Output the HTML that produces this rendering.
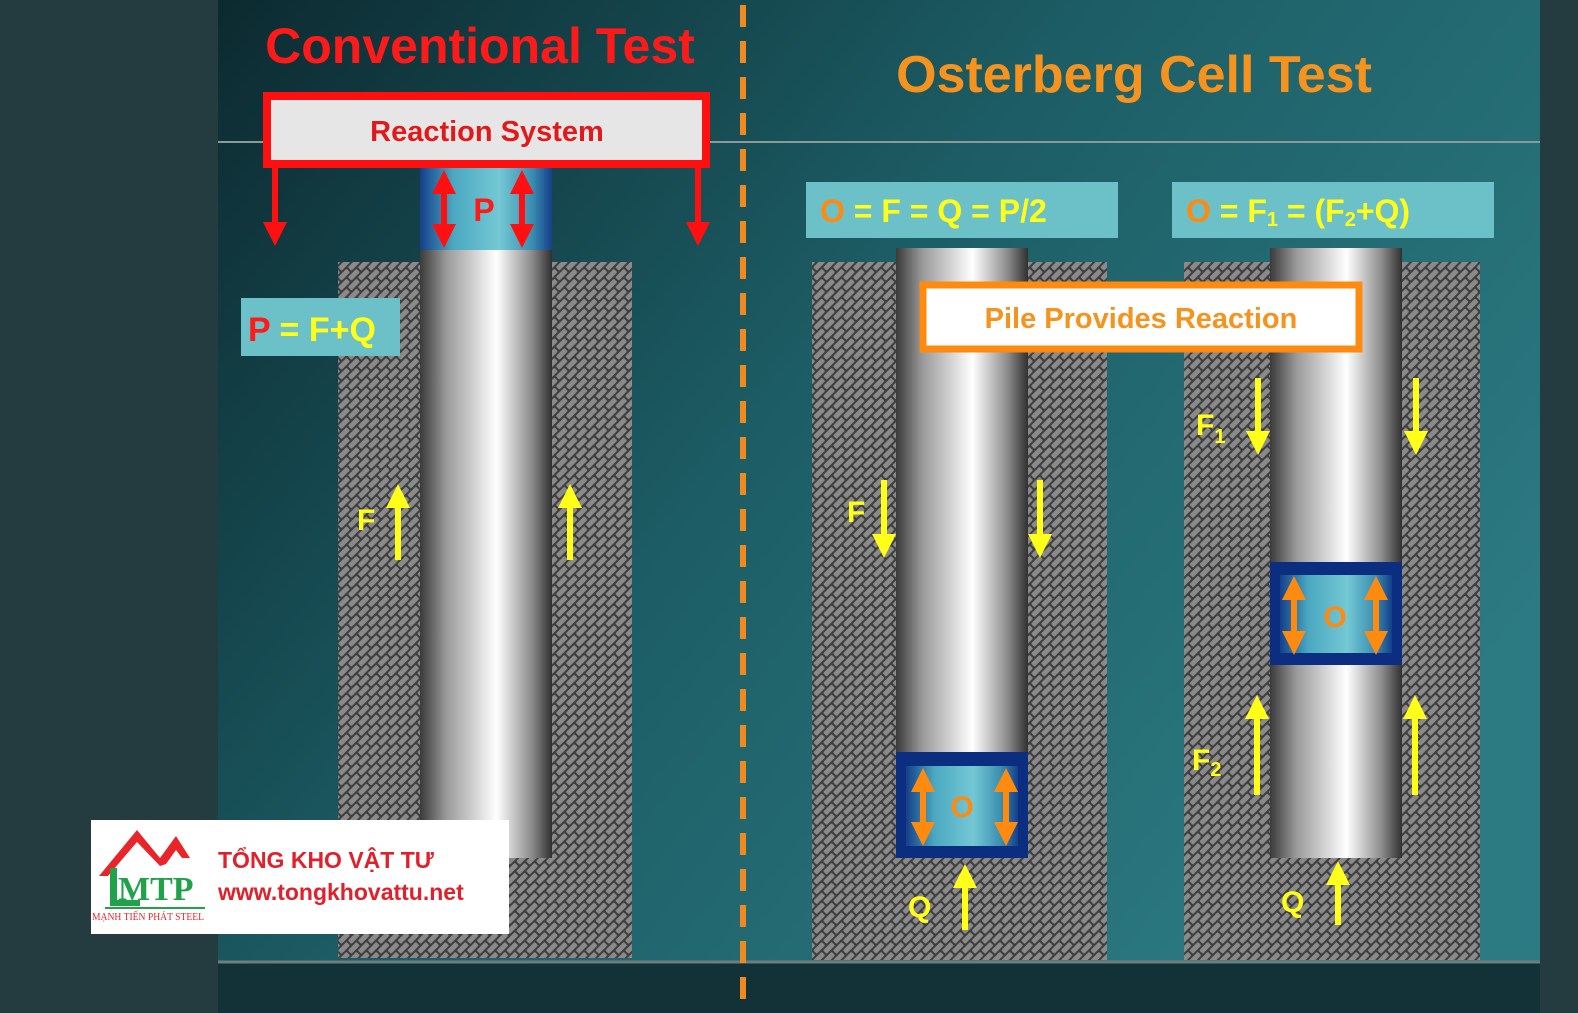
<!DOCTYPE html>
<html><head><meta charset="utf-8"><style>
html,body{margin:0;padding:0;background:#243b3f;}
svg{display:block}
</style></head><body>
<svg width="1578" height="1013" viewBox="0 0 1578 1013" xmlns="http://www.w3.org/2000/svg" font-family="Liberation Sans, sans-serif">
<defs>
<linearGradient id="bg" x1="0" y1="0" x2="1" y2="0.6">
<stop offset="0" stop-color="#0c2a30"/><stop offset="0.5" stop-color="#1d5e66"/><stop offset="1" stop-color="#2c7a82"/></linearGradient>
<linearGradient id="pile" x1="0" y1="0" x2="1" y2="0">
<stop offset="0" stop-color="#3a3a3a"/><stop offset="0.2" stop-color="#9a9a9a"/><stop offset="0.58" stop-color="#ffffff"/><stop offset="0.85" stop-color="#8a8a8a"/><stop offset="1" stop-color="#303030"/></linearGradient>
<linearGradient id="cell" x1="0" y1="0" x2="1" y2="0">
<stop offset="0" stop-color="#153f8a"/><stop offset="0.25" stop-color="#4aa8c0"/><stop offset="0.6" stop-color="#74c8d4"/><stop offset="0.85" stop-color="#3a8eb0"/><stop offset="1" stop-color="#153f8a"/></linearGradient>
<pattern id="soil" width="14" height="14" patternUnits="userSpaceOnUse" patternTransform="rotate(-45)">
<rect width="14" height="14" fill="#3e3e3e"/>
<rect x="1" y="1" width="12" height="5" rx="1" fill="#8a8a8a"/>
<rect x="-6" y="8" width="12" height="5" rx="1" fill="#8a8a8a"/>
<rect x="8" y="8" width="12" height="5" rx="1" fill="#8a8a8a"/>
</pattern>
<marker id="hy" markerWidth="4" markerHeight="4" refX="2" refY="2" orient="auto-start-reverse" markerUnits="strokeWidth"><path d="M0,0 L4,2 L0,4 z" fill="#ffff1a"/></marker>
<marker id="hr" markerWidth="4" markerHeight="4" refX="2" refY="2" orient="auto-start-reverse" markerUnits="strokeWidth"><path d="M0,0 L4,2 L0,4 z" fill="#ff1010"/></marker>
<marker id="ho" markerWidth="4" markerHeight="4" refX="2" refY="2" orient="auto-start-reverse" markerUnits="strokeWidth"><path d="M0,0 L4,2 L0,4 z" fill="#ff8a10"/></marker>
</defs>
<rect width="1578" height="1013" fill="#243b3f"/>
<rect x="218" y="0" width="1322" height="1013" fill="url(#bg)"/>
<rect x="218" y="962" width="1322" height="51" fill="#133238"/>
<line x1="218" y1="142" x2="1540" y2="142" stroke="#8a9a98" stroke-width="2"/>
<line x1="218" y1="962" x2="1540" y2="962" stroke="#6e7e7c" stroke-width="3"/>
<line x1="743" y1="5" x2="743" y2="1013" stroke="#f08a20" stroke-width="6" stroke-dasharray="22,14"/>

<text x="480" y="63" text-anchor="middle" font-size="50" font-weight="bold" fill="#ff1a1a">Conventional Test</text>
<text x="1134" y="92" text-anchor="middle" font-size="52" font-weight="bold" fill="#f5931e">Osterberg Cell Test</text>

<!-- left -->
<rect x="338" y="262" width="294" height="696" fill="url(#soil)"/>
<rect x="420" y="250" width="132" height="608" fill="url(#pile)"/>
<rect x="420" y="168" width="132" height="82" fill="url(#cell)"/>
<rect x="267" y="96" width="439" height="68" fill="#e6e6e6" stroke="#ff1010" stroke-width="8"/>
<text x="487" y="141" text-anchor="middle" font-size="29" font-weight="bold" fill="#e01a1a">Reaction System</text>
<line x1="275" y1="166" x2="275" y2="234" stroke="#ff1010" stroke-width="6" marker-end="url(#hr)"/>
<line x1="698" y1="166" x2="698" y2="234" stroke="#ff1010" stroke-width="6" marker-end="url(#hr)"/>
<line x1="444" y1="182" x2="444" y2="236" stroke="#ff1010" stroke-width="6" marker-start="url(#hr)" marker-end="url(#hr)"/>
<line x1="522" y1="182" x2="522" y2="236" stroke="#ff1010" stroke-width="6" marker-start="url(#hr)" marker-end="url(#hr)"/>
<text x="484" y="221" text-anchor="middle" font-size="32" font-weight="bold" fill="#ff1a1a">P</text>
<rect x="241" y="298" width="159" height="58" fill="#6cc0c8"/>
<text x="248" y="341" font-size="34" font-weight="bold" fill="#ff1a1a">P <tspan fill="#ffff1a">= F+Q</tspan></text>
<line x1="398" y1="560" x2="398" y2="496" stroke="#ffff1a" stroke-width="6" marker-end="url(#hy)"/>
<line x1="570" y1="560" x2="570" y2="496" stroke="#ffff1a" stroke-width="6" marker-end="url(#hy)"/>
<text x="357" y="530" font-size="30" font-weight="bold" fill="#ffff1a">F</text>

<!-- middle -->
<rect x="812" y="262" width="295" height="698" fill="url(#soil)"/>
<rect x="896" y="248" width="132" height="504" fill="url(#pile)"/>
<rect x="896" y="752" width="132" height="106" fill="#0c2e80"/>
<rect x="906" y="766" width="112" height="80" fill="url(#cell)"/>
<line x1="923" y1="780" x2="923" y2="834" stroke="#ff8a10" stroke-width="6" marker-start="url(#ho)" marker-end="url(#ho)"/>
<line x1="1006" y1="780" x2="1006" y2="834" stroke="#ff8a10" stroke-width="6" marker-start="url(#ho)" marker-end="url(#ho)"/>
<text x="962" y="817" text-anchor="middle" font-size="30" font-weight="bold" fill="#ff8a10">O</text>
<rect x="806" y="182" width="312" height="56" fill="#6cc0c8"/>
<text x="820" y="222" font-size="32" font-weight="bold" fill="#ff8a10">O <tspan fill="#ffff1a">= F = Q = P/2</tspan></text>
<line x1="884" y1="480" x2="884" y2="546" stroke="#ffff1a" stroke-width="6" marker-end="url(#hy)"/>
<line x1="1040" y1="480" x2="1040" y2="546" stroke="#ffff1a" stroke-width="6" marker-end="url(#hy)"/>
<text x="847" y="522" font-size="30" font-weight="bold" fill="#ffff1a">F</text>
<line x1="965" y1="930" x2="965" y2="876" stroke="#ffff1a" stroke-width="6" marker-end="url(#hy)"/>
<text x="908" y="917" font-size="30" font-weight="bold" fill="#ffff1a">Q</text>

<!-- right -->
<rect x="1184" y="262" width="296" height="698" fill="url(#soil)"/>
<rect x="1270" y="248" width="132" height="314" fill="url(#pile)"/>
<rect x="1270" y="665" width="132" height="193" fill="url(#pile)"/>
<rect x="1270" y="562" width="132" height="103" fill="#0c2e80"/>
<rect x="1280" y="575" width="112" height="78" fill="url(#cell)"/>
<line x1="1294" y1="588" x2="1294" y2="643" stroke="#ff8a10" stroke-width="6" marker-start="url(#ho)" marker-end="url(#ho)"/>
<line x1="1376" y1="588" x2="1376" y2="643" stroke="#ff8a10" stroke-width="6" marker-start="url(#ho)" marker-end="url(#ho)"/>
<text x="1335" y="627" text-anchor="middle" font-size="30" font-weight="bold" fill="#ff8a10">O</text>
<rect x="1172" y="182" width="322" height="56" fill="#6cc0c8"/>
<text x="1186" y="222" font-size="32" font-weight="bold" fill="#ff8a10">O <tspan fill="#ffff1a">= F<tspan font-size="20" dy="4">1</tspan><tspan dy="-4"> = (F</tspan><tspan font-size="20" dy="4">2</tspan><tspan dy="-4">+Q)</tspan></tspan></text>
<line x1="1258" y1="378" x2="1258" y2="443" stroke="#ffff1a" stroke-width="6" marker-end="url(#hy)"/>
<line x1="1416" y1="378" x2="1416" y2="443" stroke="#ffff1a" stroke-width="6" marker-end="url(#hy)"/>
<text x="1196" y="435" font-size="30" font-weight="bold" fill="#ffff1a">F<tspan font-size="20" dy="8">1</tspan></text>
<line x1="1257" y1="795" x2="1257" y2="707" stroke="#ffff1a" stroke-width="6" marker-end="url(#hy)"/>
<line x1="1415" y1="795" x2="1415" y2="707" stroke="#ffff1a" stroke-width="6" marker-end="url(#hy)"/>
<text x="1192" y="770" font-size="30" font-weight="bold" fill="#ffff1a">F<tspan font-size="20" dy="6">2</tspan></text>
<line x1="1338" y1="925" x2="1338" y2="873" stroke="#ffff1a" stroke-width="6" marker-end="url(#hy)"/>
<text x="1281" y="912" font-size="30" font-weight="bold" fill="#ffff1a">Q</text>

<rect x="923" y="285" width="436" height="64" fill="#ffffff" stroke="#ff8a10" stroke-width="7"/>
<text x="1141" y="328" text-anchor="middle" font-size="29" font-weight="bold" fill="#f5931e">Pile Provides Reaction</text>

<!-- logo -->
<rect x="91" y="820" width="418" height="114" fill="#ffffff"/>
<path d="M99,876 L137,830 L160,858 L176,836 L190,858 L182,858 L176,850 L166,864 L160,866 L137,842 L108,876 z" fill="#e8262a"/>
<text x="118" y="900" font-family="Liberation Serif, serif" font-size="34" font-weight="bold" fill="#20a24a">MTP</text>
<path d="M110,868 L117,868 L117,900 L140,900 L140,906 L110,906 z" fill="#20a24a"/>
<line x1="105" y1="908" x2="205" y2="908" stroke="#20a24a" stroke-width="2"/>
<text x="92" y="920" font-family="Liberation Serif, serif" font-size="10" fill="#e8262a" textLength="112" lengthAdjust="spacingAndGlyphs">MẠNH TIẾN PHÁT STEEL</text>
<text x="218" y="868" font-size="23" font-weight="bold" fill="#e0202a">TỔNG KHO VẬT TƯ</text>
<text x="218" y="900" font-size="23" font-weight="bold" fill="#e0202a">www.tongkhovattu.net</text>
</svg>
</body></html>
